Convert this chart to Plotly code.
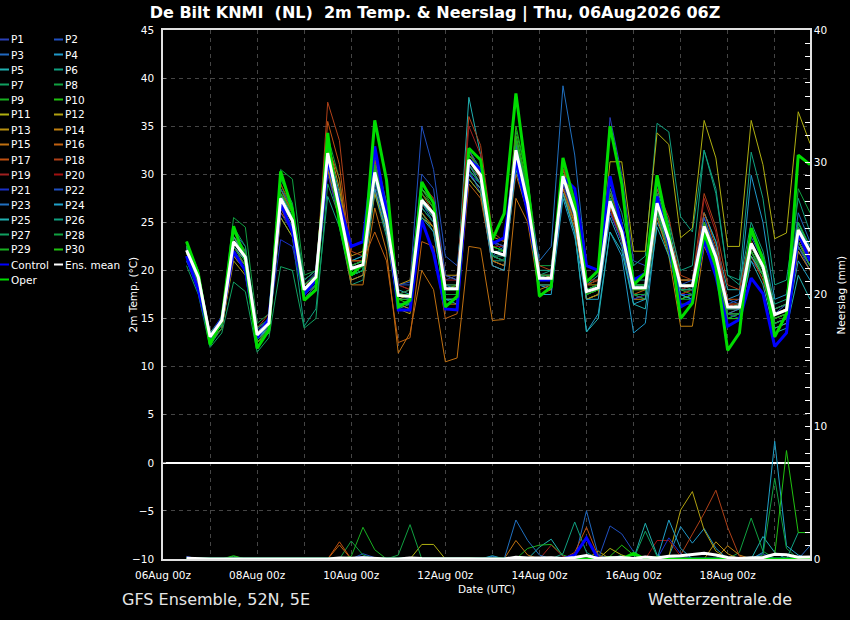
import plotly.graph_objects as go
import pandas as pd

# ---------------- data ----------------
times = pd.date_range("2026-08-06 12:00", periods=54, freq="6h")
tick_dates = ["2026-08-06", "2026-08-08", "2026-08-10", "2026-08-12", "2026-08-14", "2026-08-16", "2026-08-18"]

P1_temp = [21.0,18.5,12.8,14.5,22.0,20.5,13.5,14.8,26.0,24.0,17.5,19.0,31.0,26.0,19.5,20.0,29.0,24.5,17.0,17.5,28.0,26.5,19.0,19.5,30.5,28.0,20.5,20.0,31.0,26.5,19.5,19.0,28.5,25.5,18.5,19.5,35.9,30.0,21.0,20.5,28.0,24.0,18.0,18.5,23.0,20.5,15.5,15.0,21.0,19.5,15.0,15.5,22.0,20.0]
P2_temp = [21.8,19.0,13.5,15.2,23.5,21.8,13.8,15.0,28.0,25.5,18.5,19.8,33.0,27.5,21.0,21.5,31.0,26.0,18.5,18.8,35.0,30.5,21.5,20.5,32.0,30.5,23.0,22.0,31.5,26.0,18.5,18.0,28.0,25.0,17.0,17.5,26.0,23.0,17.5,17.0,25.5,22.0,17.5,17.0,23.0,20.0,15.0,15.5,22.0,19.5,14.5,15.0,22.5,20.0]
P3_temp = [22.5,19.5,13.2,14.5,22.5,21.0,13.0,14.2,27.0,25.0,18.2,19.5,32.5,27.0,20.5,21.0,30.5,25.5,17.5,17.0,27.0,25.0,17.5,17.5,31.0,29.5,21.5,21.0,33.0,27.5,19.0,19.5,30.5,27.0,18.0,18.5,26.5,23.0,17.5,17.5,26.0,22.5,18.0,18.5,25.5,22.0,17.0,16.5,24.0,21.0,16.0,16.5,26.0,23.0]
P4_temp = [21.5,18.8,12.5,14.0,21.5,20.0,12.8,14.0,26.5,24.5,17.0,18.5,31.5,26.0,19.0,19.5,29.5,24.5,16.5,16.0,26.5,25.0,17.0,16.5,30.5,29.0,21.0,20.5,31.5,26.5,18.5,18.0,28.0,24.0,13.6,15.5,24.0,21.5,13.5,14.5,25.0,22.5,17.5,17.0,26.0,23.0,17.0,17.5,29.9,25.0,17.0,17.5,25.0,22.0]
P5_temp = [22.8,19.8,13.5,15.0,23.5,22.0,13.5,14.8,28.5,26.0,18.5,19.5,33.0,28.0,21.0,21.5,31.5,26.5,18.0,17.5,28.0,26.5,19.5,19.0,38.0,32.0,23.0,22.5,33.5,28.0,20.0,20.0,30.0,26.5,18.0,18.0,27.5,24.0,18.0,18.5,28.5,24.5,19.0,19.0,26.0,23.0,18.0,18.0,24.0,21.0,16.0,16.5,25.0,22.5]
P6_temp = [21.0,18.2,12.2,14.0,21.5,20.0,12.5,13.5,25.5,23.5,14.2,16.0,27.7,24.5,18.5,19.0,28.0,23.5,16.0,16.5,26.0,24.0,17.0,17.0,29.5,28.0,21.0,21.0,31.0,27.0,19.5,20.0,29.0,25.5,18.5,19.5,29.0,26.0,20.5,21.5,35.3,34.4,25.6,24.0,32.5,28.0,19.5,18.5,25.0,22.0,16.5,17.0,24.0,21.0]
P7_temp = [20.5,17.5,12.0,13.5,18.8,17.8,11.5,13.0,20.4,20.0,14.0,15.0,29.0,25.5,19.5,20.0,29.5,25.0,17.5,17.5,27.5,26.0,18.5,18.5,30.0,28.5,22.0,21.5,32.0,27.5,20.0,20.0,28.0,25.0,18.0,18.5,26.5,23.5,18.5,18.5,26.5,23.0,18.5,18.0,23.5,20.5,16.0,16.5,22.0,19.5,15.0,15.5,22.5,20.5]
P8_temp = [22.0,19.5,13.0,15.2,25.5,24.5,14.5,15.5,30.5,29.5,19.5,20.0,34.0,29.5,20.5,21.0,31.0,26.0,17.5,18.0,28.5,27.0,18.5,18.0,32.5,30.5,22.5,22.0,34.5,29.5,20.5,20.5,31.0,27.0,18.5,19.0,28.5,25.0,18.5,18.5,27.5,23.5,18.0,18.5,25.0,21.5,15.5,15.5,22.0,20.0,14.5,15.0,23.0,21.0]
P9_temp = [22.5,19.5,13.0,14.5,23.5,21.5,12.5,14.0,28.5,25.5,17.5,19.0,32.0,26.5,19.5,20.0,30.0,25.0,16.5,16.5,27.5,26.0,17.0,17.0,31.0,29.5,21.5,21.0,33.0,28.0,19.0,19.0,29.5,26.0,17.0,17.5,27.5,24.5,17.5,17.0,26.0,22.0,16.5,16.5,23.0,20.5,15.0,15.5,21.5,19.5,14.5,15.0,23.5,21.0]
P10_temp = [23.0,20.0,13.2,15.0,24.0,22.0,13.0,14.5,29.0,26.0,18.0,19.5,33.5,27.0,19.5,20.0,32.5,27.0,17.0,16.5,28.5,26.5,17.5,17.5,32.5,30.5,22.0,21.5,35.0,29.5,19.5,19.0,30.5,26.5,18.0,18.5,28.0,25.0,18.5,18.0,27.5,23.5,18.0,17.5,25.0,22.0,15.5,15.5,24.0,21.0,15.5,16.0,25.0,22.5]
P11_temp = [22.0,19.0,13.0,14.5,22.5,21.0,13.0,14.5,27.0,25.0,18.0,19.0,31.5,26.5,20.0,20.5,30.0,25.0,17.0,17.5,27.0,25.5,18.0,18.5,31.0,29.0,21.5,21.0,31.5,27.0,19.0,19.5,30.5,27.0,18.5,19.0,31.3,31.3,22.0,22.0,34.3,33.1,23.4,24.4,35.6,31.7,22.5,22.5,35.6,31.0,23.3,23.9,36.5,33.2]
P12_temp = [21.5,18.5,12.5,14.0,21.0,19.5,12.5,14.0,25.5,23.5,17.0,18.5,30.5,26.0,19.5,20.5,28.0,24.0,16.0,15.5,25.5,24.5,17.0,17.0,29.5,28.0,21.0,20.5,31.0,26.5,18.5,18.5,28.5,25.0,17.0,17.5,26.5,23.5,17.5,17.5,26.5,23.0,18.0,18.0,24.5,21.5,16.0,16.0,23.0,20.5,15.5,16.0,24.0,21.5]
P13_temp = [22.5,19.5,13.5,15.0,23.5,21.5,13.5,15.0,28.0,26.0,19.0,20.0,33.5,28.5,21.5,22.0,30.5,25.5,18.5,19.0,28.5,27.0,19.5,19.5,32.0,30.5,23.5,23.0,33.0,27.5,19.5,19.5,30.0,26.5,18.5,18.5,27.0,24.0,18.0,18.0,27.0,23.5,19.0,19.0,25.0,22.0,16.5,16.5,22.5,20.0,15.0,15.5,23.0,21.0]
P14_temp = [21.8,19.0,12.5,14.5,22.0,20.5,12.5,13.5,26.5,24.5,17.0,18.5,31.0,26.0,19.0,19.5,28.5,24.0,16.5,16.0,26.0,24.5,16.5,16.5,30.0,28.5,20.5,20.0,31.5,26.5,18.0,18.5,29.0,25.5,17.0,17.5,26.0,23.0,17.0,17.0,25.5,21.5,14.2,14.2,22.5,20.0,15.0,15.0,21.5,19.5,14.0,14.5,22.0,20.0]
P15_temp = [22.0,19.0,13.0,14.5,22.5,20.5,13.0,14.0,26.5,24.0,17.0,18.0,30.5,25.0,18.5,18.5,26.5,22.0,11.4,13.5,20.0,18.0,10.5,10.9,22.5,22.3,14.8,14.9,27.5,25.0,17.5,18.0,28.0,24.5,17.5,18.0,26.5,23.0,17.0,17.5,26.0,22.0,17.0,17.5,24.0,21.0,15.5,16.0,22.5,20.0,15.0,15.5,23.5,21.0]
P16_temp = [21.5,18.5,12.5,14.0,21.5,20.0,12.5,14.0,26.0,24.5,17.5,18.5,33.0,29.5,21.0,21.0,24.0,21.0,12.5,13.0,23.0,22.5,15.0,15.5,29.0,27.5,21.0,20.5,30.0,26.0,18.5,18.5,28.5,25.0,17.5,18.0,26.5,23.0,17.5,18.0,26.5,22.5,17.5,18.0,24.5,21.0,15.5,15.5,21.5,19.0,14.5,15.0,22.5,20.5]
P17_temp = [22.5,19.5,13.2,15.0,23.0,21.5,13.5,15.0,28.5,26.0,18.5,19.5,35.5,31.0,21.0,21.0,30.5,25.5,17.5,17.5,28.0,26.0,18.0,18.5,32.5,30.0,22.0,21.5,32.0,27.0,19.5,19.5,30.0,26.0,18.0,18.5,28.0,24.5,18.5,18.5,28.0,24.0,19.0,19.0,26.0,22.5,17.0,17.0,24.0,21.0,15.5,16.0,24.5,22.0]
P18_temp = [22.0,19.2,13.0,14.8,23.5,22.0,14.0,15.5,29.0,26.5,18.5,19.0,37.5,33.5,22.0,21.5,31.5,27.0,18.5,18.0,29.0,27.5,19.5,19.0,36.0,33.0,24.0,23.0,33.0,28.5,20.5,20.0,30.5,27.5,19.0,19.0,28.0,25.0,19.0,19.5,28.5,25.5,19.5,19.0,28.0,24.5,18.5,18.0,24.0,21.5,16.0,16.5,24.0,21.5]
P19_temp = [22.2,19.5,13.0,14.5,23.0,21.5,13.2,14.8,27.5,25.5,18.5,19.5,32.5,27.5,20.5,21.0,31.0,26.5,18.5,18.0,29.0,27.5,19.0,19.0,35.0,32.0,23.0,22.5,34.0,28.5,20.0,20.0,31.0,27.0,18.5,19.0,28.5,24.5,18.5,18.0,26.5,22.5,17.5,18.0,27.5,24.0,16.5,16.0,22.0,19.5,14.5,15.0,23.0,20.5]
P20_temp = [21.8,19.0,13.0,14.5,22.5,21.0,13.5,14.5,27.5,25.0,18.5,19.5,31.5,26.5,20.5,21.0,30.0,25.5,17.5,18.0,28.0,26.5,18.5,18.5,31.5,29.5,22.5,22.5,32.5,27.0,19.5,19.0,29.0,25.5,17.5,18.0,26.5,23.0,17.5,17.5,26.0,22.5,18.0,18.5,24.5,21.5,16.5,16.5,23.0,20.5,15.5,16.0,24.5,22.0]
P21_temp = [21.0,18.0,12.8,14.5,22.0,20.0,13.5,14.5,23.2,22.5,17.0,18.5,30.0,25.5,19.5,20.5,29.5,24.5,16.5,16.5,26.5,25.0,17.5,17.5,30.0,29.0,21.5,21.0,31.5,26.5,18.5,18.5,29.0,25.5,17.5,18.0,26.0,23.0,17.0,17.5,26.5,22.5,17.5,17.5,24.0,20.5,15.5,15.5,22.0,19.5,14.5,15.0,23.0,20.5]
P22_temp = [22.5,19.5,13.5,15.0,24.0,22.5,13.5,15.0,28.5,26.5,19.0,20.0,33.0,27.5,20.5,21.0,32.0,27.0,18.5,18.5,30.0,28.5,19.5,19.0,32.5,30.5,23.0,22.5,31.5,27.0,19.5,19.5,30.0,26.5,18.0,18.5,27.0,24.0,18.5,18.5,27.5,23.5,18.5,19.0,25.5,22.0,16.5,17.0,23.5,21.0,15.5,16.5,24.5,22.5]
P23_temp = [22.0,19.0,13.0,14.8,23.0,21.5,13.0,14.2,27.5,25.0,18.0,19.5,32.0,27.0,20.0,20.5,30.0,25.0,17.0,17.0,27.5,26.0,18.5,18.0,31.0,29.0,21.5,22.5,33.0,28.0,21.0,22.5,39.2,32.0,20.5,20.0,27.5,24.5,18.5,18.0,27.0,23.0,18.0,18.0,24.5,21.0,15.5,16.0,22.5,20.0,14.5,15.0,22.5,20.5]
P24_temp = [21.5,18.8,12.8,14.3,22.5,21.0,13.0,14.0,27.0,24.5,17.5,18.5,31.0,26.0,19.5,20.0,28.5,24.0,16.5,16.5,25.5,24.0,17.0,17.0,30.0,28.5,20.5,20.0,30.5,26.0,17.5,17.5,27.5,23.5,17.0,17.0,25.5,22.5,16.5,17.0,26.0,22.5,17.5,17.0,24.0,21.0,16.0,16.0,21.5,19.5,14.0,14.5,21.0,19.0]
P25_temp = [22.3,19.3,13.0,15.0,23.5,21.5,13.5,14.5,28.0,25.5,18.5,19.5,32.0,26.5,20.0,20.5,30.5,25.5,17.5,17.5,27.0,25.5,18.0,18.0,31.5,30.0,22.0,21.5,32.0,26.5,19.0,19.0,28.0,24.0,13.6,15.0,24.0,22.0,16.5,16.0,24.5,21.5,17.0,17.5,23.0,20.0,15.0,15.0,21.0,18.5,13.5,14.0,19.5,17.0]
P26_temp = [22.0,19.0,13.0,14.5,23.0,21.0,13.0,14.5,27.5,25.0,18.0,19.0,31.5,26.0,19.5,20.0,30.0,25.5,17.5,17.5,27.0,25.5,18.0,18.0,30.5,29.0,21.5,21.5,33.5,28.5,20.0,20.0,30.0,26.0,18.0,18.5,28.5,25.0,19.0,19.0,29.0,25.0,20.0,20.5,32.5,28.5,19.5,19.0,32.3,27.5,18.5,19.0,27.5,24.0]
P27_temp = [22.5,19.5,13.5,15.0,24.5,22.5,14.0,15.0,29.5,27.0,19.0,20.0,33.0,27.0,20.5,21.0,31.0,26.0,17.5,18.0,28.5,27.0,18.5,18.5,32.0,30.5,22.0,22.0,33.5,28.0,19.5,19.0,29.5,25.5,17.5,18.0,27.5,24.5,18.5,18.5,28.0,24.0,18.0,18.0,24.5,21.5,16.0,16.5,24.0,21.5,16.0,16.5,25.0,22.0]
P28_temp = [21.5,18.8,12.5,14.0,22.5,20.5,12.5,14.0,27.0,24.5,17.5,18.5,31.5,25.5,19.5,20.0,29.5,24.5,16.5,16.5,26.5,25.0,17.5,17.5,30.5,29.0,21.5,21.0,32.0,26.5,18.5,18.5,29.5,26.0,17.5,18.0,27.0,23.5,17.5,17.5,26.0,22.0,17.0,17.0,23.5,20.5,15.0,15.5,22.0,19.5,15.0,15.5,28.5,26.0]
P29_temp = [22.8,19.8,13.3,15.0,24.0,22.0,13.5,14.5,28.0,26.0,18.5,19.5,32.5,27.0,20.5,21.0,31.0,26.0,17.5,17.5,28.0,26.5,18.0,18.5,32.0,30.5,22.5,22.0,33.5,28.5,19.5,19.5,30.0,26.5,18.0,18.5,28.0,24.5,18.5,18.5,27.0,23.0,18.5,18.5,25.0,21.5,15.5,15.5,22.5,20.0,15.0,15.5,24.5,22.0]
P30_temp = [21.8,19.0,12.8,14.5,23.0,21.5,13.0,14.5,27.5,25.5,18.0,19.0,32.5,27.5,20.0,20.5,30.5,25.5,17.0,17.0,27.5,26.0,18.0,18.0,31.5,30.0,22.5,22.0,34.0,29.0,19.0,19.0,30.0,26.0,17.5,18.0,27.0,23.5,18.0,18.0,26.5,22.5,17.0,17.5,23.5,20.5,15.0,15.0,22.0,19.5,14.5,15.0,23.0,20.5]
control_temp = [21.5,18.0,13.0,15.0,22.0,20.0,13.0,15.0,27.0,24.0,17.5,19.0,31.5,27.0,22.5,23.0,32.9,26.0,15.9,15.9,25.2,21.8,16.0,15.9,31.5,30.5,22.8,23.4,31.5,26.0,19.0,19.0,29.7,28.5,20.5,20.0,29.8,24.5,19.0,19.7,27.7,22.8,16.2,16.9,23.2,19.4,14.2,14.9,19.2,17.6,12.1,13.5,23.9,21.0]
oper_temp = [23.0,19.7,12.3,14.9,24.6,21.1,11.9,13.8,30.3,26.3,16.9,18.0,34.3,24.9,19.5,20.7,35.6,29.4,16.2,16.9,29.2,27.0,16.2,17.3,32.7,31.5,23.2,25.9,38.4,29.0,17.3,18.3,31.7,27.0,18.8,20.0,35.0,29.0,18.5,19.7,29.9,23.9,15.0,16.6,23.9,20.4,11.7,13.5,24.4,21.1,13.1,15.5,32.0,31.0]
mean_temp = [22.1,19.3,13.1,14.8,23.0,21.4,13.3,14.5,27.5,25.2,18.0,19.3,32.2,26.5,20.2,20.6,30.2,25.2,17.4,17.3,27.3,25.9,18.1,18.1,31.5,29.9,22.0,21.6,32.5,27.0,19.2,19.2,29.8,26.0,17.8,18.2,27.2,24.0,18.2,18.2,27.0,23.2,18.4,18.4,24.6,21.4,16.2,16.2,22.8,20.4,15.4,15.9,24.2,22.0]

P1_rain = [0.2,0,0,0,0,0, 0,0,0,0,0,0, 0,0,0,0,0,0, 0,0,0,0,0,0, 0,0,0,0,0,0, 0,0,0,0,0.3,0, 0,0,0,0,0,0, 0,0,0,0,0,0, 0,0.4,0,0,0,0]
P2_rain = [0.15,0,0,0,0,0, 0,0,0,0,0,0, 0,0,0,0.4,0.1,0, 0,0,0,0,0,0, 0,0,0,0,0,0, 0,0,0,0,0,0, 0,0,0,0,0,0, 0,0,0,0,0,0, 0,0,0,0,0,0]
P3_rain = [0,0,0,0,0,0, 0,0,0,0,0,0, 0,0,0,0,0,0, 0,0,0,0,0,0, 0,0,0,0,0,0, 0,0,0,0,3.65,0.3, 0,0,0,0,0,0, 0,0,0,0,0,0, 0,0,0,0,0,1.0]
P4_rain = [0,0,0,0,0,0, 0,0,0,0,0,0, 0,0,0,0,0,0, 0,0,0,0,0,0, 0,0,0,0,0,0, 0,0,0,0,0,0, 0,0,0,0,0,0.2, 2.45,1.2,2.3,0.8,0,0, 0,0,0,0,0,0]
P5_rain = [0,0,0,0,0,0, 0,0,0,0,0,0, 0,0,0,0,0,0, 0,0,0,0,0,0, 0,0,0.25,0,0,0, 0.9,1.5,0.2,0,0,0, 0,0,0,0,0,0, 0,0,0,0,0,0, 0,1.7,0.5,0,0,0]
P6_rain = [0,0,0,0,0,0, 0,0,0,0,0,0, 0,0,0,0,0,0, 0,0,0,0,0,0, 0,0,0,0,0,0, 0,0,0,0,0,0, 0,0,0,0,0,0, 0,0,0,0,0,0, 0,0,0,0,2.0,2.0]
P7_rain = [0,0,0,0,0.2,0, 0,0,0,0,0,0, 0,0,0,0,0,0, 0,0,0,0,0,0, 0,0,0,0,0,0, 0,0,0,0,0,0, 0,0.3,0,0,0,0, 0,0,0,0,0,0, 0,0,0,0,0,0]
P8_rain = [0,0,0,0,0,0, 0,0,0,0,0,0, 0,0,1.36,0.3,0,0, 0,0,0,0,0,0, 0,0,0,0,0,0, 0,0,0,0,0,0, 0,0,0,0,0,0, 0,0,0,0,0,0.5, 3.1,0.6,0,0,0,0]
P9_rain = [0,0,0,0,0,0, 0,0,0,0,0,0, 0,0,0,0,0,0, 0,0,0,0,0,0, 0,0,0,0,0,0.8, 1.05,1.1,0.3,0,0,0, 0,0,0,0,0,0, 0,0,0,0,0,0, 0,0,0,0,0,0]
P10_rain = [0,0,0,0,0,0, 0,0,0,0,0,0, 0,0,0,0,0,0, 0,0,0,0,0,0, 0,0,0,0,0,0, 0,0,0,0,0,0, 0.2,1.05,0.3,0,0,0, 0,0,0,0,0,0, 0,0,0,0,0,0]
P11_rain = [0,0,0,0,0,0, 0,0,0,0,0,0, 0,0,0,0,0,0, 0,0,1.1,1.1,0,0, 0.1,0,0,0,0,0, 0,0,0,0,0,0, 0.8,0.3,0,0,0,0, 0,0,0,0,0,0, 0,0,0,0,0,0]
P12_rain = [0,0,0,0,0,0, 0,0,0,0,0,0, 0,0,0,0,0,0, 0,0,0,0,0,0, 0,0,0,0,0,0, 0,0,0,0,0,0.6, 0,0,0,0,0,0.2, 3.7,5.1,2.2,0.6,0,0, 0,0,0,0,0,0]
P13_rain = [0,0,0,0,0,0, 0,0,0,0,0,0, 0,0,0,0,0,0, 0,0,0,0,0,0, 0,0,0,0,0,0, 0,0,0,0,0,0, 0,0,0,0,0,0, 0,0,0,1.3,0.4,0, 0,0,0,0,0,0]
P14_rain = [0,0,0,0,0,0, 0,0,0,0,0,0, 0,0,0,0,0,0, 0,0,0,0,0,0, 0,0,0,0,0,0, 0,0,0,0,0,0, 0,0,0,0,0,0, 0,0,0,0,1.0,0.3, 0,0,0,0,0,0]
P15_rain = [0,0,0,0,0,0, 0,0,0,0,0,0, 0,0,0,0,0,0, 0,0,0,0,0,0, 0,0,0,0,1.4,0.3, 0,0,0,0,0,0, 0,0,0,0,0,0, 0,0,0,0,0,0, 0,0,0,0,0,0]
P16_rain = [0,0,0,0,0,0, 0,0,0,0,0,0, 0,1.06,0,0,0,0, 0,0,0,0,0,0, 0,0,0,0,0,0, 0,0,0,0,0,0, 0,0,0,0,0,0, 0,0,0,0,0,0, 0,0,0,0,0,0]
P17_rain = [0,0,0,0,0,0, 0,0,0,0,0,0, 0,1.3,0,0,0,0, 0,0,0,0,0,0, 0,0,0,0,0,0, 0,0,0,0.5,2.4,0.2, 0,0,0,0,0,0, 0,0,0,0,0,0, 0,0,0,0,0,0]
P18_rain = [0,0,0,0,0,0, 0,0,0,0,0,0, 0,0,0,0,0,0, 0,0,0,0,0,0, 0,0,0,0,0,0, 0,0,0,0,0,0, 0,0,0,0,0,0, 0.3,1.9,3.45,5.2,2.4,0.2, 0,0,0,0,0,0]
P19_rain = [0,0,0,0,0,0, 0,0,0,0,0,0, 0,0,0,0,0,0, 0,0,0,0,0,0, 0,0,0,0,0,0, 0,1.05,0.2,0,0,0, 0,0,0,0,0,0, 0,0,0,0,0,0, 0,0,0,0,0,0]
P20_rain = [0,0,0,0,0,0, 0,0,0,0,0,0, 0,0,0,0,0,0, 0,0,0,0,0,0, 0,0,0,0,0,0, 0,0,0,0,0,0, 0,0,0,0,1.4,1.4, 0.2,0,0,0,0,0, 0,0,0,0,0,0]
P21_rain = [0,0,0,0,0,0, 0,0,0,0,0,0, 0,0,0,0.2,0,0, 0,0,0,0,0,0, 0,0,0,0,0,0, 0,0,0,0,0,0, 0,0,0,0,0,1.6, 0.4,0,0,0,0,0, 0,0,0,0,0,0]
P22_rain = [0,0,0,0,0,0, 0,0,0,0,0,0, 0,0,0,0,0,0, 0,0,0,0,0,0, 0,0,0,0,0,0, 0,0,0,0,0,0, 2.5,1.9,0.55,0,0,0, 0,0,0,0,0,0, 0,0,0,0,0,0]
P23_rain = [0,0,0,0,0,0, 0,0,0,0,0,0, 0,0,0,0,0,0, 0,0,0,0,0,0, 0,0,0.2,0,2.95,1.4, 0.3,0,0,0,0,0, 0,0,0,0,0,0, 0,0,0,0,0,0, 0,0,0,0,0,0]
P24_rain = [0,0,0,0,0,0, 0,0,0,0,0,0, 0,0,0,0,0,0, 0,0,0,0,0,0, 0,0,0,0,0,0, 0,0,0,0,0,0, 0,0,0,0,0,2.95, 0.8,0,0,0,0,0, 0,0.5,8.9,1.0,0.3,0]
P25_rain = [0,0,0,0,0,0, 0,0,0,0,0,0, 0,0,0,0,0,0, 0,0,0,0,0,0, 0,0,0,0,0,0, 0,0,0,0,0,0, 0,0,0,2.7,0.3,0, 0,0,0,0,0,0, 0,0,0,0,0,0]
P26_rain = [0,0,0,0,0,0, 0,0,0,0,0,0, 0,0,0,0,0,0, 0,0,0,0,0,0, 0,0,0,0,0,0, 0,0,0.4,2.8,0.5,0, 0,0,0,0,0,0, 0,0,0,0,0,0, 0,0,0,0,0,0]
P27_rain = [0,0,0,0,0,0, 0,0,0,0,0,0, 0,0,0,0,0,0, 0,0,0,0,0,0, 0,0,0,0,0,0, 0,0,0,0,0,0, 0,0,0,2.1,0.2,0, 0,0,0,0,0,0, 0,0,0,0,0,0]
P28_rain = [0,0,0,0,0,0, 0,0,0,0,0,0, 0,0,0,0,0,0, 0.3,2.6,0,0,0,0, 0,0,0,0,0,0, 0,0,0,0,0,0, 0,0,0,0,0,0, 0,0,0,0,0,0, 0,0.3,6.1,0.8,0,0]
P29_rain = [0,0,0,0,0,0, 0,0,0,0,0,0, 0,0,0.2,2.4,0.7,0, 0,0,0,0,0,0, 0,0,0,0,0,0, 0,0,0,0,0,0, 0,0,0,0,0,0, 0,0,0,0,0,0, 0,0,0,0,0,0]
P30_rain = [0,0,0,0,0.25,0, 0,0,0,0,0,0, 0,0,0,0,0,0, 0,0,0,0,0,0, 0,0,0,0,0,0, 0,0,0,0,0,0, 0,0,0,0,0,0, 0,0,0,0,0,0, 0,0,0.3,8.2,2.0,2.0]
control_rain = [0,0,0,0,0,0, 0,0,0,0,0,0, 0,0,0,0,0,0, 0,0,0,0,0,0, 0,0,0,0,0,0, 0,0,0,0.3,1.6,0, 0,0,0,0,0,0, 0,0,0,0,0,0, 0,0,0,0,0,0]
oper_rain = [0,0,0,0,0,0, 0,0,0,0,0,0, 0,0,0,0,0,0, 0,0,0,0,0,0, 0,0,0,0,0,0, 0,0,0,0,0,0, 0.1,0,0.43,0,0.1,0, 0,0,0,0,0,0, 0,0,0,0,0,0]
mean_rain = [0.05,0,0,0,0.02,0, 0,0,0,0,0,0, 0,0.08,0.05,0.1,0.03,0, 0,0.08,0.04,0.04,0,0, 0,0,0.02,0,0.14,0.08, 0.08,0.09,0.04,0.12,0.27,0.04, 0.1,0.12,0.04,0.15,0.07,0.21, 0.25,0.35,0.43,0.3,0.12,0.03, 0.1,0.11,0.35,0.32,0.14,0.16]

member_names = ["P%d" % i for i in range(1, 31)]
member_colors = ["#2a40b8", "#2050c0", "#2068c0", "#2098c8", "#20b0b0", "#10a080", "#10a060", "#10a040", "#18b020", "#20c010",
                 "#b0b010", "#b0a010", "#b89010", "#c08010", "#c07010", "#c06010", "#c05010", "#b04018", "#a02020", "#a01010",
                 "#1a30c8", "#2050c0", "#2070c0", "#20a0c8", "#20b0b0", "#10a080", "#10a060", "#10a040", "#18b020", "#20c010"]
member_temps = [P1_temp, P2_temp, P3_temp, P4_temp, P5_temp, P6_temp, P7_temp, P8_temp, P9_temp, P10_temp,
                P11_temp, P12_temp, P13_temp, P14_temp, P15_temp, P16_temp, P17_temp, P18_temp, P19_temp, P20_temp,
                P21_temp, P22_temp, P23_temp, P24_temp, P25_temp, P26_temp, P27_temp, P28_temp, P29_temp, P30_temp]
member_rains = [P1_rain, P2_rain, P3_rain, P4_rain, P5_rain, P6_rain, P7_rain, P8_rain, P9_rain, P10_rain,
                P11_rain, P12_rain, P13_rain, P14_rain, P15_rain, P16_rain, P17_rain, P18_rain, P19_rain, P20_rain,
                P21_rain, P22_rain, P23_rain, P24_rain, P25_rain, P26_rain, P27_rain, P28_rain, P29_rain, P30_rain]

for arr in member_temps + member_rains + [control_temp, oper_temp, mean_temp, control_rain, oper_rain, mean_rain]:
    assert len(arr) == 54, len(arr)

CONTROL_COLOR = "#0000ff"
OPER_COLOR = "#00dd00"
MEAN_COLOR = "#ffffff"

# ---------------- figure ----------------
W, H = 850, 620
ML, MR, MT, MB = 163, 40, 30, 61
PW, PH = W - ML - MR, H - MT - MB
FONT = "DejaVu Sans"
GRID = "#454545"
SMALL = 10.5

def px_x(px):
    return (px - ML) / PW

def px_y(py):
    return (H - MB - py) / PH

fig = go.Figure()

for name, col, temp in zip(member_names, member_colors, member_temps):
    fig.add_trace(go.Scatter(x=times, y=temp, mode="lines", name=name, showlegend=False,
                             line=dict(color=col, width=1), yaxis="y"))
for name, col, rain in zip(member_names, member_colors, member_rains):
    fig.add_trace(go.Scatter(x=times, y=rain, mode="lines", name=name, showlegend=False,
                             line=dict(color=col, width=1), yaxis="y2"))

fig.add_trace(go.Scatter(x=times, y=control_temp, mode="lines", name="Control", showlegend=False,
                         line=dict(color=CONTROL_COLOR, width=3), yaxis="y"))
fig.add_trace(go.Scatter(x=times, y=oper_temp, mode="lines", name="Oper", showlegend=False,
                         line=dict(color=OPER_COLOR, width=3), yaxis="y"))
fig.add_trace(go.Scatter(x=times, y=mean_temp, mode="lines", name="Ens. mean", showlegend=False,
                         line=dict(color=MEAN_COLOR, width=3), yaxis="y"))
fig.add_trace(go.Scatter(x=times, y=control_rain, mode="lines", name="Control", showlegend=False,
                         line=dict(color=CONTROL_COLOR, width=3), yaxis="y2"))
fig.add_trace(go.Scatter(x=times, y=oper_rain, mode="lines", name="Oper", showlegend=False,
                         line=dict(color=OPER_COLOR, width=3), yaxis="y2"))
fig.add_trace(go.Scatter(x=times, y=mean_rain, mode="lines", name="Ens. mean", showlegend=False,
                         line=dict(color=MEAN_COLOR, width=3), yaxis="y2"))

# ---------------- manual two-column legend ----------------
col1 = [(n, c) for n, c in zip(member_names[0::2], member_colors[0::2])] + [("Control", CONTROL_COLOR), ("Oper", OPER_COLOR)]
col2 = [(n, c) for n, c in zip(member_names[1::2], member_colors[1::2])] + [("Ens. mean", MEAN_COLOR)]
annotations = []
shapes = []
for colx, items in ((0, col1), (54, col2)):
    for r, (n, c) in enumerate(items):
        yc = 39.5 + 15 * r
        shapes.append(dict(type="line", xref="paper", yref="paper",
                           x0=px_x(colx), x1=px_x(colx + 9), y0=px_y(yc), y1=px_y(yc),
                           line=dict(color=c, width=2)))
        annotations.append(dict(text=n, xref="paper", yref="paper", x=px_x(colx + 9), y=px_y(yc),
                                xanchor="left", yanchor="middle", showarrow=False,
                                font=dict(family=FONT, size=SMALL, color="#ffffff")))

# axis titles (placed at the reference pixel positions)
annotations.append(dict(text="2m Temp. (°C)", xref="paper", yref="paper", x=px_x(132), y=0.5,
                        xanchor="center", yanchor="middle", textangle=-90, showarrow=False,
                        font=dict(family=FONT, size=SMALL, color="#ffffff")))
annotations.append(dict(text="Neerslag (mm)", xref="paper", yref="paper", x=px_x(840), y=0.5,
                        xanchor="center", yanchor="middle", textangle=-90, showarrow=False,
                        font=dict(family=FONT, size=SMALL, color="#ffffff")))
annotations.append(dict(text="Date (UTC)", xref="paper", yref="paper", x=0.5, y=px_y(589),
                        xanchor="center", yanchor="middle", showarrow=False,
                        font=dict(family=FONT, size=SMALL, color="#ffffff")))

annotations.append(dict(text="GFS Ensemble, 52N, 5E", xref="paper", yref="paper", x=px_x(120), y=px_y(599),
                        xanchor="left", yanchor="middle", showarrow=False,
                        font=dict(family=FONT, size=16, color="#e6e6e6")))
annotations.append(dict(text="Wetterzentrale.de", xref="paper", yref="paper", x=px_x(794), y=px_y(599),
                        xanchor="right", yanchor="middle", showarrow=False,
                        font=dict(family=FONT, size=16, color="#e6e6e6")))

fig.update_layout(
    width=W, height=H,
    margin=dict(l=ML, r=MR, t=MT, b=MB),
    paper_bgcolor="#000000", plot_bgcolor="#000000",
    font=dict(family=FONT, size=SMALL, color="#ffffff"),
    title=dict(text="<b>De Bilt KNMI \u00a0(NL) \u00a02m Temp. &amp; Neerslag | Thu, 06Aug2026 06Z</b>",
               x=435 / W, xanchor="center", y=1 - 12 / H, yanchor="middle",
               font=dict(family=FONT, size=16, color="#ffffff")),
    showlegend=False,
    annotations=annotations,
    shapes=shapes,
    xaxis=dict(type="date", range=["2026-08-06 00:00", "2026-08-19 18:00"],
               tickvals=tick_dates, tickformat="%d%b %Hz",
               showgrid=True, gridcolor=GRID, griddash="4px,4px", gridwidth=1,
               minor=dict(dtick=86400000, tick0="2026-08-06", showgrid=True, gridcolor=GRID, griddash="4px,4px"),
               showline=True, linecolor="#e0e0e0", linewidth=1.5, mirror=True,
               ticks="", ticklabelstandoff=6, tickfont=dict(size=SMALL, color="#ffffff"),
               zeroline=False),
    yaxis=dict(range=[-10, 45], dtick=5, tick0=-10,
               showgrid=True, gridcolor=GRID, griddash="4px,4px", gridwidth=1,
               zeroline=True, zerolinecolor="#ffffff", zerolinewidth=1.5,
               showline=True, linecolor="#e0e0e0", linewidth=1.5, mirror=True,
               ticks="inside", ticklen=3, tickcolor="#888888", ticklabelstandoff=5,
               tickfont=dict(size=SMALL, color="#ffffff")),
    yaxis2=dict(overlaying="y", side="right", range=[0, 40], dtick=10, tick0=0,
                showgrid=False, zeroline=False,
                showline=True, linecolor="#e0e0e0", linewidth=1.5,
                ticks="inside", ticklen=5, tickcolor="#ffffff", tickwidth=1,
                minor=dict(dtick=1, ticks="inside", ticklen=5, tickcolor="#ffffff", tickwidth=1),
                tickfont=dict(size=SMALL, color="#ffffff")),
)

fig.write_html("out.html", config={"displayModeBar": False},
               post_script="document.body.style.margin='0px';document.body.style.overflow='hidden';")
